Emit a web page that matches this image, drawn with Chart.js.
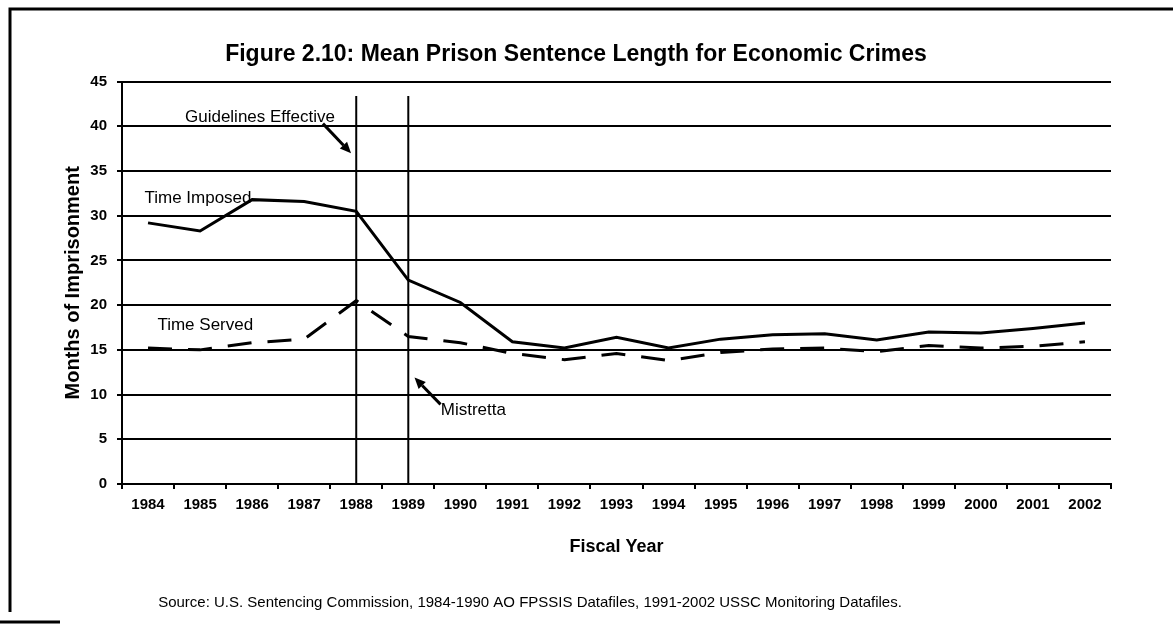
<!DOCTYPE html>
<html>
<head>
<meta charset="utf-8">
<script src="https://cdn.jsdelivr.net/npm/chart.js@4.4.0/dist/chart.umd.min.js"></script>
<style>
html,body{margin:0;padding:0;background:#fff;}
#wrap{width:1173px;height:627px;position:relative;}
</style>
</head>
<body>
<div id="wrap"><canvas id="c" width="1173" height="627"></canvas></div>
<script>
// ---- data ----
const years = ['1984','1985','1986','1987','1988','1989','1990','1991','1992','1993','1994','1995','1996','1997','1998','1999','2000','2001','2002'];
const timeImposed = [29.2, 28.3, 31.8, 31.6, 30.5, 22.8, 20.3, 15.9, 15.2, 16.4, 15.2, 16.2, 16.7, 16.8, 16.1, 17.0, 16.9, 17.4, 18.0];
const timeServed  = [15.2, 15.0, 15.8, 16.2, 20.5, 16.5, 15.8, 14.6, 13.9, 14.6, 13.8, 14.7, 15.1, 15.2, 14.8, 15.5, 15.2, 15.4, 15.9];
const yMin = 0, yMax = 45, yStep = 5;
const eventYears = ['1988', '1989'];
const eventTop = 43.4;
const titleText = 'Figure 2.10: Mean Prison Sentence Length for Economic Crimes';
const yTitle = 'Months of Imprisonment';
const xTitle = 'Fiscal Year';
const sourceText = 'Source: U.S. Sentencing Commission, 1984-1990 AO FPSSIS Datafiles, 1991-2002 USSC Monitoring Datafiles.';
// annotation labels: [text, category position (fractional index), value]
const notes = [
  ['Guidelines Effective', 2.15, 41.0],
  ['Time Imposed', 0.96, 31.9],
  ['Time Served', 1.1, 17.75],
  ['Mistretta', 6.25, 8.26]
];
// arrows: [fromCat, fromVal, toCat, toVal]
const arrows = [
  [3.36, 40.3, 3.90, 37.0],
  [5.62, 8.9, 5.12, 11.9]
];

const NARROW = "'Liberation Sans Narrow','Arial Narrow','Liberation Sans',Arial,sans-serif";
const SANS = "'Liberation Sans',Arial,sans-serif";

function catPx(chart, c) {
  const xs = chart.scales.x;
  const step = (xs.right - xs.left) / years.length;
  return xs.left + (c + 0.5) * step;
}

const decor = {
  id: 'decor',
  beforeDraw(chart) {
    const ctx = chart.ctx;
    ctx.save();
    ctx.fillStyle = '#fff';
    ctx.fillRect(0, 0, chart.width, chart.height);
    ctx.strokeStyle = '#000';
    ctx.lineWidth = 3;
    ctx.beginPath();
    ctx.moveTo(10, 612);
    ctx.lineTo(10, 9);
    ctx.lineTo(chart.width, 9);
    ctx.stroke();
    ctx.beginPath();
    ctx.moveTo(0, 622);
    ctx.lineTo(60, 622);
    ctx.stroke();
    ctx.restore();
  },
  afterDraw(chart) {
    const ctx = chart.ctx;
    const ys = chart.scales.y;
    ctx.save();
    ctx.fillStyle = '#000';
    ctx.textAlign = 'center';
    ctx.textBaseline = 'middle';
    ctx.font = '17px ' + SANS;
    notes.forEach(n => {
      ctx.fillText(n[0], catPx(chart, n[1]), ys.getPixelForValue(n[2]));
    });
    ctx.strokeStyle = '#000';
    ctx.lineWidth = 3;
    arrows.forEach(a => {
      const x1 = catPx(chart, a[0]), y1 = ys.getPixelForValue(a[1]);
      const x2 = catPx(chart, a[2]), y2 = ys.getPixelForValue(a[3]);
      const ang = Math.atan2(y2 - y1, x2 - x1);
      const hl = 11, hw = 5;
      const bx = x2 - hl * Math.cos(ang), by = y2 - hl * Math.sin(ang);
      ctx.beginPath();
      ctx.moveTo(x1, y1);
      ctx.lineTo(bx, by);
      ctx.stroke();
      ctx.beginPath();
      ctx.moveTo(x2, y2);
      ctx.lineTo(bx + hw * Math.sin(ang), by - hw * Math.cos(ang));
      ctx.lineTo(bx - hw * Math.sin(ang), by + hw * Math.cos(ang));
      ctx.closePath();
      ctx.fill();
    });
    ctx.font = '15px ' + SANS;
    ctx.fillText(sourceText, 530, 603);
    ctx.restore();
  }
};

const eventSets = eventYears.map(yr => ({
  label: yr,
  data: [{x: yr, y: yMin}, {x: yr, y: eventTop}],
  borderColor: '#000',
  borderWidth: 2,
  pointRadius: 0,
  tension: 0
}));

new Chart(document.getElementById('c'), {
  type: 'line',
  data: {
    labels: years,
    datasets: [
      {label: 'Time Imposed', data: timeImposed, borderColor: '#000', borderWidth: 3, pointRadius: 0, tension: 0},
      {label: 'Time Served', data: timeServed, borderColor: '#000', borderWidth: 3, borderDash: [24, 16], pointRadius: 0, tension: 0},
      ...eventSets
    ]
  },
  options: {
    responsive: false,
    animation: false,
    devicePixelRatio: 1,
    layout: {padding: {top: 10, left: 41, right: 62, bottom: 69}},
    plugins: {
      legend: {display: false},
      tooltip: {enabled: false},
      title: {
        display: true,
        text: titleText,
        color: '#000',
        font: {family: SANS, size: 23, weight: 'bold'},
        padding: {top: 31, bottom: 13}
      }
    },
    scales: {
      x: {
        type: 'category',
        offset: true,
        grid: {
          offset: true,
          drawOnChartArea: true,
          color: c => (c.index === years.length ? '#000' : 'rgba(0,0,0,0)'),
          tickColor: '#000',
          lineWidth: 2,
          tickLength: 5
        },
        border: {color: '#000', width: 2},
        ticks: {color: '#000', font: {family: NARROW, size: 15, weight: 'bold'}, padding: 7, maxRotation: 0, autoSkip: false},
        title: {display: true, text: xTitle, color: '#000', font: {family: SANS, size: 18, weight: 'bold'}, padding: {top: 0, bottom: 0}},
        afterFit(s) { s.height = 74; }
      },
      y: {
        min: yMin, max: yMax,
        ticks: {stepSize: yStep, color: '#000', font: {family: NARROW, size: 15, weight: 'bold'}, padding: 10},
        grid: {color: '#000', lineWidth: 2, tickLength: 5},
        border: {color: '#000', width: 2},
        title: {display: true, text: yTitle, color: '#000', font: {family: SANS, size: 20, weight: 'bold'}, padding: {top: 20, bottom: 0}},
        afterFit(s) { s.width = 81; }
      }
    }
  },
  plugins: [decor]
});
</script>
</body>
</html>
